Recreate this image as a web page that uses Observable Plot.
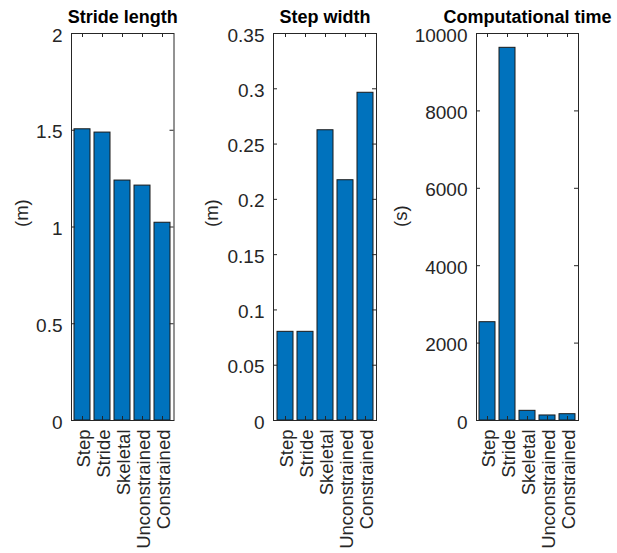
<!DOCTYPE html>
<html><head><meta charset="utf-8">
<script src="https://cdn.jsdelivr.net/npm/d3@7"></script>
<script src="https://cdn.jsdelivr.net/npm/@observablehq/plot@0.6"></script>
<style>
html,body{margin:0;padding:0;background:#fff;}
#chart{position:relative;width:617px;height:553px;background:#fff;overflow:hidden;}
#chart svg{position:absolute;top:0;}
</style></head><body><div id="chart"></div>
<script>
const categories = ["Step", "Stride", "Skeletal", "Unconstrained", "Constrained"];
const strideLength = [1.505, 1.488, 1.240, 1.214, 1.022];
const stepWidth = [0.0802, 0.0802, 0.2625, 0.2173, 0.2964];
const compTime = [2540, 9630, 250, 130, 163];
const titles = ["Stride length", "Step width", "Computational time"];
const yLabels = ["(m)", "(m)", "(s)"];
const yTicks1 = [0, 0.5, 1, 1.5, 2];
const yTicks2 = [0, 0.05, 0.1, 0.15, 0.2, 0.25, 0.3, 0.35];
const yTicks3 = [0, 2000, 4000, 6000, 8000, 10000];

const panels = [
  {values: strideLength, ticks: yTicks1, max: 2, title: titles[0], ylab: yLabels[0], left: 0, width: 200, ml: 71, mr: 26.5, labelOff: 49},
  {values: stepWidth, ticks: yTicks2, max: 0.35, title: titles[1], ylab: yLabels[1], left: 200, width: 205, ml: 73, mr: 29, labelOff: 61},
  {values: compTime, ticks: yTicks3, max: 10000, title: titles[2], ylab: yLabels[2], left: 400, width: 217, ml: 76, mr: 39, labelOff: 75}
];

const H = 553, MT = 33, MB = 133;
const axisColor = "#262626";
const FONT = "'Liberation Sans', Arial, Helvetica, sans-serif";
const TL = 4;

const chart = document.getElementById("chart");
for (const p of panels) {
  const data = categories.map((c, i) => ({name: c, value: p.values[i]}));
  const FW = p.width - p.ml - p.mr;
  const FH = H - MT - MB;
  const svg = Plot.plot({
    width: p.width,
    height: H,
    marginLeft: p.ml,
    marginRight: p.mr,
    marginTop: MT,
    marginBottom: MB,
    style: {fontFamily: FONT, fontSize: "18.5px", color: axisColor, background: "transparent", overflow: "visible"},
    x: {domain: categories, paddingInner: 0.2, paddingOuter: 0.1, align: 0.5},
    y: {domain: [0, p.max]},
    marks: [
      Plot.barY(data, {x: "name", y: "value", fill: "#0072BD", stroke: "#1a1a1a", strokeWidth: 1}),
      Plot.tickY(p.ticks, {y: d => d, insetRight: FW - TL, stroke: axisColor}),
      Plot.tickY(p.ticks, {y: d => d, insetLeft: FW - TL, stroke: axisColor}),
      Plot.tickX(categories, {x: d => d, insetTop: FH - TL, stroke: axisColor}),
      Plot.tickX(categories, {x: d => d, insetBottom: FH - TL, stroke: axisColor}),
      Plot.frame({stroke: axisColor, strokeWidth: 1}),
      Plot.axisY({ticks: p.ticks, tickSize: 0, tickPadding: 9, dy: 2, label: null, tickFormat: d => String(d), fontSize: 19, fill: axisColor}),
      Plot.axisX({tickRotate: -90, tickSize: 0, tickPadding: 9, dx: 2, label: null, fontSize: 18.5, fill: axisColor}),
      Plot.text([p.title], {text: d => d, frameAnchor: "top", dy: -11, lineAnchor: "bottom", fontWeight: "bold", fontSize: 18, fill: "#000"}),
      Plot.text([p.ylab], {text: d => d, frameAnchor: "left", dx: -p.labelOff, rotate: -90, fontSize: 18.5, fill: axisColor})
    ]
  });
  svg.style.left = p.left + "px";
  chart.appendChild(svg);
}
</script></body></html>
